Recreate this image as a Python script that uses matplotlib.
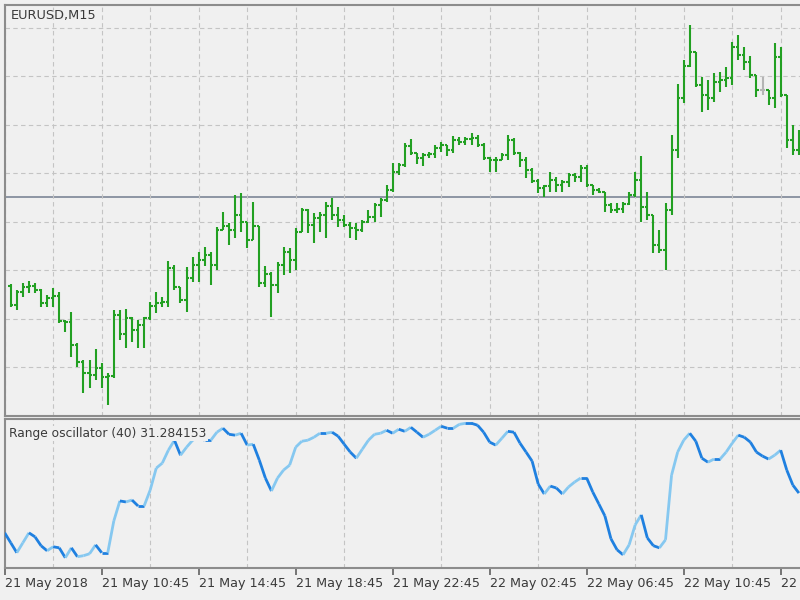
import numpy as np
import matplotlib
matplotlib.use("Agg")
import matplotlib.pyplot as plt
from matplotlib.collections import LineCollection

# EURUSD M15, bars 1..131 after 21 May 2018 06:45
opens = [1.17767, 1.17728, 1.17755, 1.17765, 1.17767, 1.17759, 1.17732, 1.17743, 1.17747, 1.17695,
         1.17693, 1.17646, 1.17611, 1.17588, 1.17584, 1.17598, 1.17580, 1.17582, 1.17708, 1.17668,
         1.17701, 1.17677, 1.17687, 1.17701, 1.17726, 1.17732, 1.17734, 1.17804, 1.17765, 1.17738,
         1.17784, 1.17811, 1.17821, 1.17831, 1.17811, 1.17883, 1.17891, 1.17883, 1.17914, 1.17899,
         1.17862, 1.17891, 1.17773, 1.17792, 1.17769, 1.17811, 1.17837, 1.17821, 1.17879, 1.17924,
         1.17893, 1.17907, 1.17914, 1.17932, 1.17914, 1.17903, 1.17893, 1.17887, 1.17883, 1.17899,
         1.17910, 1.17934, 1.17945, 1.17965, 1.18002, 1.18017, 1.18056, 1.18041, 1.18031, 1.18037,
         1.18039, 1.18052, 1.18058, 1.18048, 1.18068, 1.18064, 1.18070, 1.18072, 1.18058, 1.18031,
         1.18027, 1.18027, 1.18037, 1.18068, 1.18041, 1.18027, 1.18006, 1.17984, 1.17969, 1.17973,
         1.17986, 1.17976, 1.17982, 1.17996, 1.17992, 1.18011, 1.17976, 1.17965, 1.17961, 1.17934,
         1.17924, 1.17926, 1.17936, 1.17955, 1.17986, 1.17930, 1.17914, 1.17852, 1.17842, 1.17924,
         1.18048, 1.18155, 1.18221, 1.18250, 1.18182, 1.18161, 1.18155, 1.18188, 1.18192, 1.18196,
         1.18260, 1.18244, 1.18229, 1.18202, 1.18171, 1.18171, 1.18155, 1.18239, 1.18161, 1.18068,
         1.18048]
highs = [1.17771, 1.17759, 1.17773, 1.17778, 1.17773, 1.17761, 1.17749, 1.17763, 1.17755, 1.17697,
         1.17714, 1.17650, 1.17615, 1.17615, 1.17637, 1.17609, 1.17588, 1.17718, 1.17718, 1.17720,
         1.17703, 1.17697, 1.17703, 1.17734, 1.17755, 1.17745, 1.17819, 1.17811, 1.17765, 1.17806,
         1.17827, 1.17837, 1.17848, 1.17837, 1.17889, 1.17920, 1.17897, 1.17955, 1.17959, 1.17899,
         1.17940, 1.17891, 1.17809, 1.17796, 1.17817, 1.17848, 1.17846, 1.17887, 1.17928, 1.17926,
         1.17918, 1.17920, 1.17940, 1.17949, 1.17930, 1.17914, 1.17899, 1.17897, 1.17903, 1.17924,
         1.17938, 1.17949, 1.17976, 1.18021, 1.18021, 1.18062, 1.18070, 1.18041, 1.18041, 1.18044,
         1.18058, 1.18064, 1.18058, 1.18077, 1.18074, 1.18074, 1.18083, 1.18079, 1.18062, 1.18033,
         1.18033, 1.18041, 1.18079, 1.18072, 1.18044, 1.18033, 1.18011, 1.17988, 1.17976, 1.18002,
         1.17992, 1.17986, 1.18000, 1.18000, 1.18017, 1.18017, 1.17976, 1.17969, 1.17961, 1.17938,
         1.17938, 1.17940, 1.17961, 1.18002, 1.18035, 1.17961, 1.17914, 1.17883, 1.17938, 1.18079,
         1.18184, 1.18233, 1.18305, 1.18250, 1.18198, 1.18192, 1.18206, 1.18209, 1.18219, 1.18270,
         1.18285, 1.18260, 1.18242, 1.18202, 1.18198, 1.18171, 1.18268, 1.18260, 1.18161, 1.18099,
         1.18089]
lows = [1.17724, 1.17718, 1.17745, 1.17753, 1.17753, 1.17724, 1.17724, 1.17724, 1.17691, 1.17672,
        1.17621, 1.17600, 1.17547, 1.17557, 1.17573, 1.17557, 1.17522, 1.17578, 1.17656, 1.17639,
        1.17652, 1.17639, 1.17639, 1.17697, 1.17712, 1.17724, 1.17724, 1.17759, 1.17732, 1.17714,
        1.17776, 1.17776, 1.17809, 1.17769, 1.17800, 1.17883, 1.17852, 1.17866, 1.17879, 1.17846,
        1.17862, 1.17765, 1.17765, 1.17703, 1.17753, 1.17790, 1.17794, 1.17800, 1.17879, 1.17877,
        1.17856, 1.17879, 1.17866, 1.17903, 1.17889, 1.17889, 1.17866, 1.17862, 1.17879, 1.17897,
        1.17899, 1.17910, 1.17940, 1.17961, 1.17996, 1.18013, 1.18037, 1.18019, 1.18015, 1.18031,
        1.18031, 1.18044, 1.18035, 1.18041, 1.18058, 1.18058, 1.18058, 1.18054, 1.18027, 1.18002,
        1.18002, 1.18027, 1.18027, 1.18037, 1.18013, 1.17990, 1.17980, 1.17959, 1.17951, 1.17961,
        1.17961, 1.17961, 1.17971, 1.17982, 1.17982, 1.17971, 1.17955, 1.17959, 1.17920, 1.17918,
        1.17918, 1.17918, 1.17934, 1.17951, 1.17899, 1.17903, 1.17835, 1.17835, 1.17800, 1.17914,
        1.18031, 1.18145, 1.18219, 1.18178, 1.18126, 1.18130, 1.18147, 1.18167, 1.18178, 1.18182,
        1.18233, 1.18213, 1.18196, 1.18157, 1.18161, 1.18140, 1.18134, 1.18157, 1.18052, 1.18037,
        1.18037]
closes = [1.17728, 1.17755, 1.17765, 1.17767, 1.17759, 1.17732, 1.17743, 1.17747, 1.17695, 1.17693,
          1.17646, 1.17611, 1.17588, 1.17584, 1.17598, 1.17580, 1.17582, 1.17708, 1.17668, 1.17701,
          1.17677, 1.17687, 1.17701, 1.17726, 1.17732, 1.17734, 1.17804, 1.17765, 1.17738, 1.17784,
          1.17811, 1.17821, 1.17831, 1.17811, 1.17883, 1.17891, 1.17883, 1.17914, 1.17899, 1.17862,
          1.17891, 1.17773, 1.17792, 1.17769, 1.17811, 1.17837, 1.17821, 1.17879, 1.17924, 1.17893,
          1.17907, 1.17914, 1.17932, 1.17914, 1.17903, 1.17893, 1.17887, 1.17883, 1.17899, 1.17910,
          1.17934, 1.17945, 1.17965, 1.18002, 1.18017, 1.18056, 1.18041, 1.18031, 1.18037, 1.18039,
          1.18052, 1.18058, 1.18048, 1.18068, 1.18064, 1.18070, 1.18072, 1.18058, 1.18031, 1.18027,
          1.18027, 1.18037, 1.18068, 1.18041, 1.18027, 1.18006, 1.17984, 1.17969, 1.17973, 1.17986,
          1.17976, 1.17982, 1.17996, 1.17992, 1.18011, 1.17976, 1.17965, 1.17961, 1.17934, 1.17924,
          1.17926, 1.17936, 1.17955, 1.17986, 1.17930, 1.17914, 1.17852, 1.17842, 1.17924, 1.18048,
          1.18155, 1.18221, 1.18250, 1.18182, 1.18161, 1.18155, 1.18188, 1.18192, 1.18196, 1.18260,
          1.18244, 1.18229, 1.18202, 1.18171, 1.18171, 1.18155, 1.18239, 1.18161, 1.18068, 1.18048,
          1.18068]
gray_bars = [125]
last_line = 1.17951

# Range oscillator (40), bars 0..131
osc = [23.5, 16.8, 10.1, 16.8, 23.5, 20.8, 14.8, 11.4, 14.1, 13.4,
       6.7, 13.4, 7.4, 8.1, 9.4, 15.4, 10.1, 10.1, 31.5, 45.0,
       44.3, 45.6, 41.6, 41.6, 52.3, 67.1, 70.5, 79.2, 85.9, 75.8,
       81.2, 85.9, 87.9, 85.9, 85.9, 91.3, 94.0, 89.9, 89.3, 90.6,
       82.6, 83.2, 72.5, 60.4, 51.7, 60.4, 65.8, 69.1, 81.2, 85.2,
       85.9, 87.9, 90.6, 90.6, 91.3, 88.6, 83.2, 77.9, 73.8, 79.9,
       85.9, 89.9, 90.6, 92.6, 90.6, 93.3, 91.9, 94.6, 91.3, 87.9,
       89.9, 92.6, 95.3, 94.0, 94.0, 96.6, 97.3, 97.3, 96.0, 91.3,
       84.6, 82.6, 87.2, 91.9, 91.3, 83.9, 77.9, 71.8, 56.4, 49.7,
       55.0, 53.7, 49.7, 54.4, 57.7, 60.4, 60.4, 51.0, 43.0, 34.9,
       19.5, 12.1, 8.7, 15.4, 28.9, 35.6, 20.1, 14.8, 13.4, 18.8,
       62.4, 77.9, 85.9, 90.6, 85.2, 73.8, 71.1, 73.2, 73.2, 77.9,
       83.9, 89.3, 87.9, 84.6, 77.9, 75.2, 73.2, 75.8, 79.2, 65.8,
       55.7, 50.3]

tick_labels = ["21 May 2018", "21 May 10:45", "21 May 14:45", "21 May 18:45",
               "21 May 22:45", "22 May 02:45", "22 May 06:45", "22 May 10:45",
               "22 May 14:45"]

BG = "#f0f0f0"
FRAME = "#8c8c8c"
GRID = "#c4c4c4"
TEXT = "#3a3a3a"
BAR = "#22a022"

fig = plt.figure(figsize=(8, 6), dpi=100, facecolor=BG)
ax = fig.add_axes([4.5 / 800, 1 - 415.5 / 600, 795.5 / 800, 411 / 600])
ax2 = fig.add_axes([4.5 / 800, 1 - 567.7 / 600, 795.5 / 800, 148.4 / 600])

xmax = (800 - 4.7) / 6.0625
for a in (ax, ax2):
    a.set_facecolor(BG)
    a.set_xlim(-0.03, xmax)
    a.set_xticks(np.arange(0, 132, 8), minor=True)
    a.grid(True, which="minor", axis="x", color=GRID, lw=0.8, dashes=(4, 3))
    for s in ("left", "top", "bottom"):
        a.spines[s].set_color(FRAME)
        a.spines[s].set_linewidth(1.5)
    a.spines["right"].set_visible(False)
    a.tick_params(axis="y", left=False, labelleft=False)
    a.tick_params(axis="x", which="minor", length=0)

# price panel
x = np.arange(1, len(closes) + 1)
colors = ["#b4b4b4" if i in gray_bars else BAR for i in x]
ax.set_ylim(1.17500, 1.18348)
ax.set_yticks(np.arange(1.1760, 1.1835, 0.0010))
ax.grid(True, which="major", axis="y", color=GRID, lw=0.8, dashes=(4, 3))
ax.tick_params(axis="x", which="major", bottom=False, labelbottom=False)
ax.set_xticks([])
ax.vlines(x, lows, highs, colors=colors, lw=1.5)
ax.hlines(opens, x - 0.42, x, colors=colors, lw=1.5)
ax.hlines(closes, x, x + 0.42, colors=colors, lw=1.5)
ax.axhline(last_line, color="#7c8696", lw=1.2, zorder=1.5)
ax.text(0.0078, 0.974, "EURUSD,M15", transform=ax.transAxes, fontsize=9.3,
        color=TEXT, ha="left", va="center")

# oscillator panel
xo = np.arange(len(osc))
pts = np.column_stack([xo, osc])
segs = np.stack([pts[:-1], pts[1:]], axis=1)
seg_colors = ["#86c8f0" if osc[i + 1] > osc[i] else "#1f80e0" for i in range(len(osc) - 1)]
ax2.add_collection(LineCollection(segs, colors=seg_colors, lw=2.0, zorder=3))
ax2.set_ylim(0, 100)
ax2.set_xticks(np.arange(0, 132, 16))
ax2.set_xticklabels(tick_labels, ha="left")
ax2.tick_params(axis="x", which="major", length=5, width=1.2, color="#606060",
                pad=2, labelsize=9.2, labelcolor=TEXT)
ax2.text(0.0057, 0.905, "Range oscillator (40) 31.284153", transform=ax2.transAxes,
         fontsize=8.8, color=TEXT, ha="left", va="center", zorder=5,
         bbox=dict(facecolor=BG, edgecolor="none", pad=1.0))

fig.savefig("out.png", dpi=100, facecolor=BG)
